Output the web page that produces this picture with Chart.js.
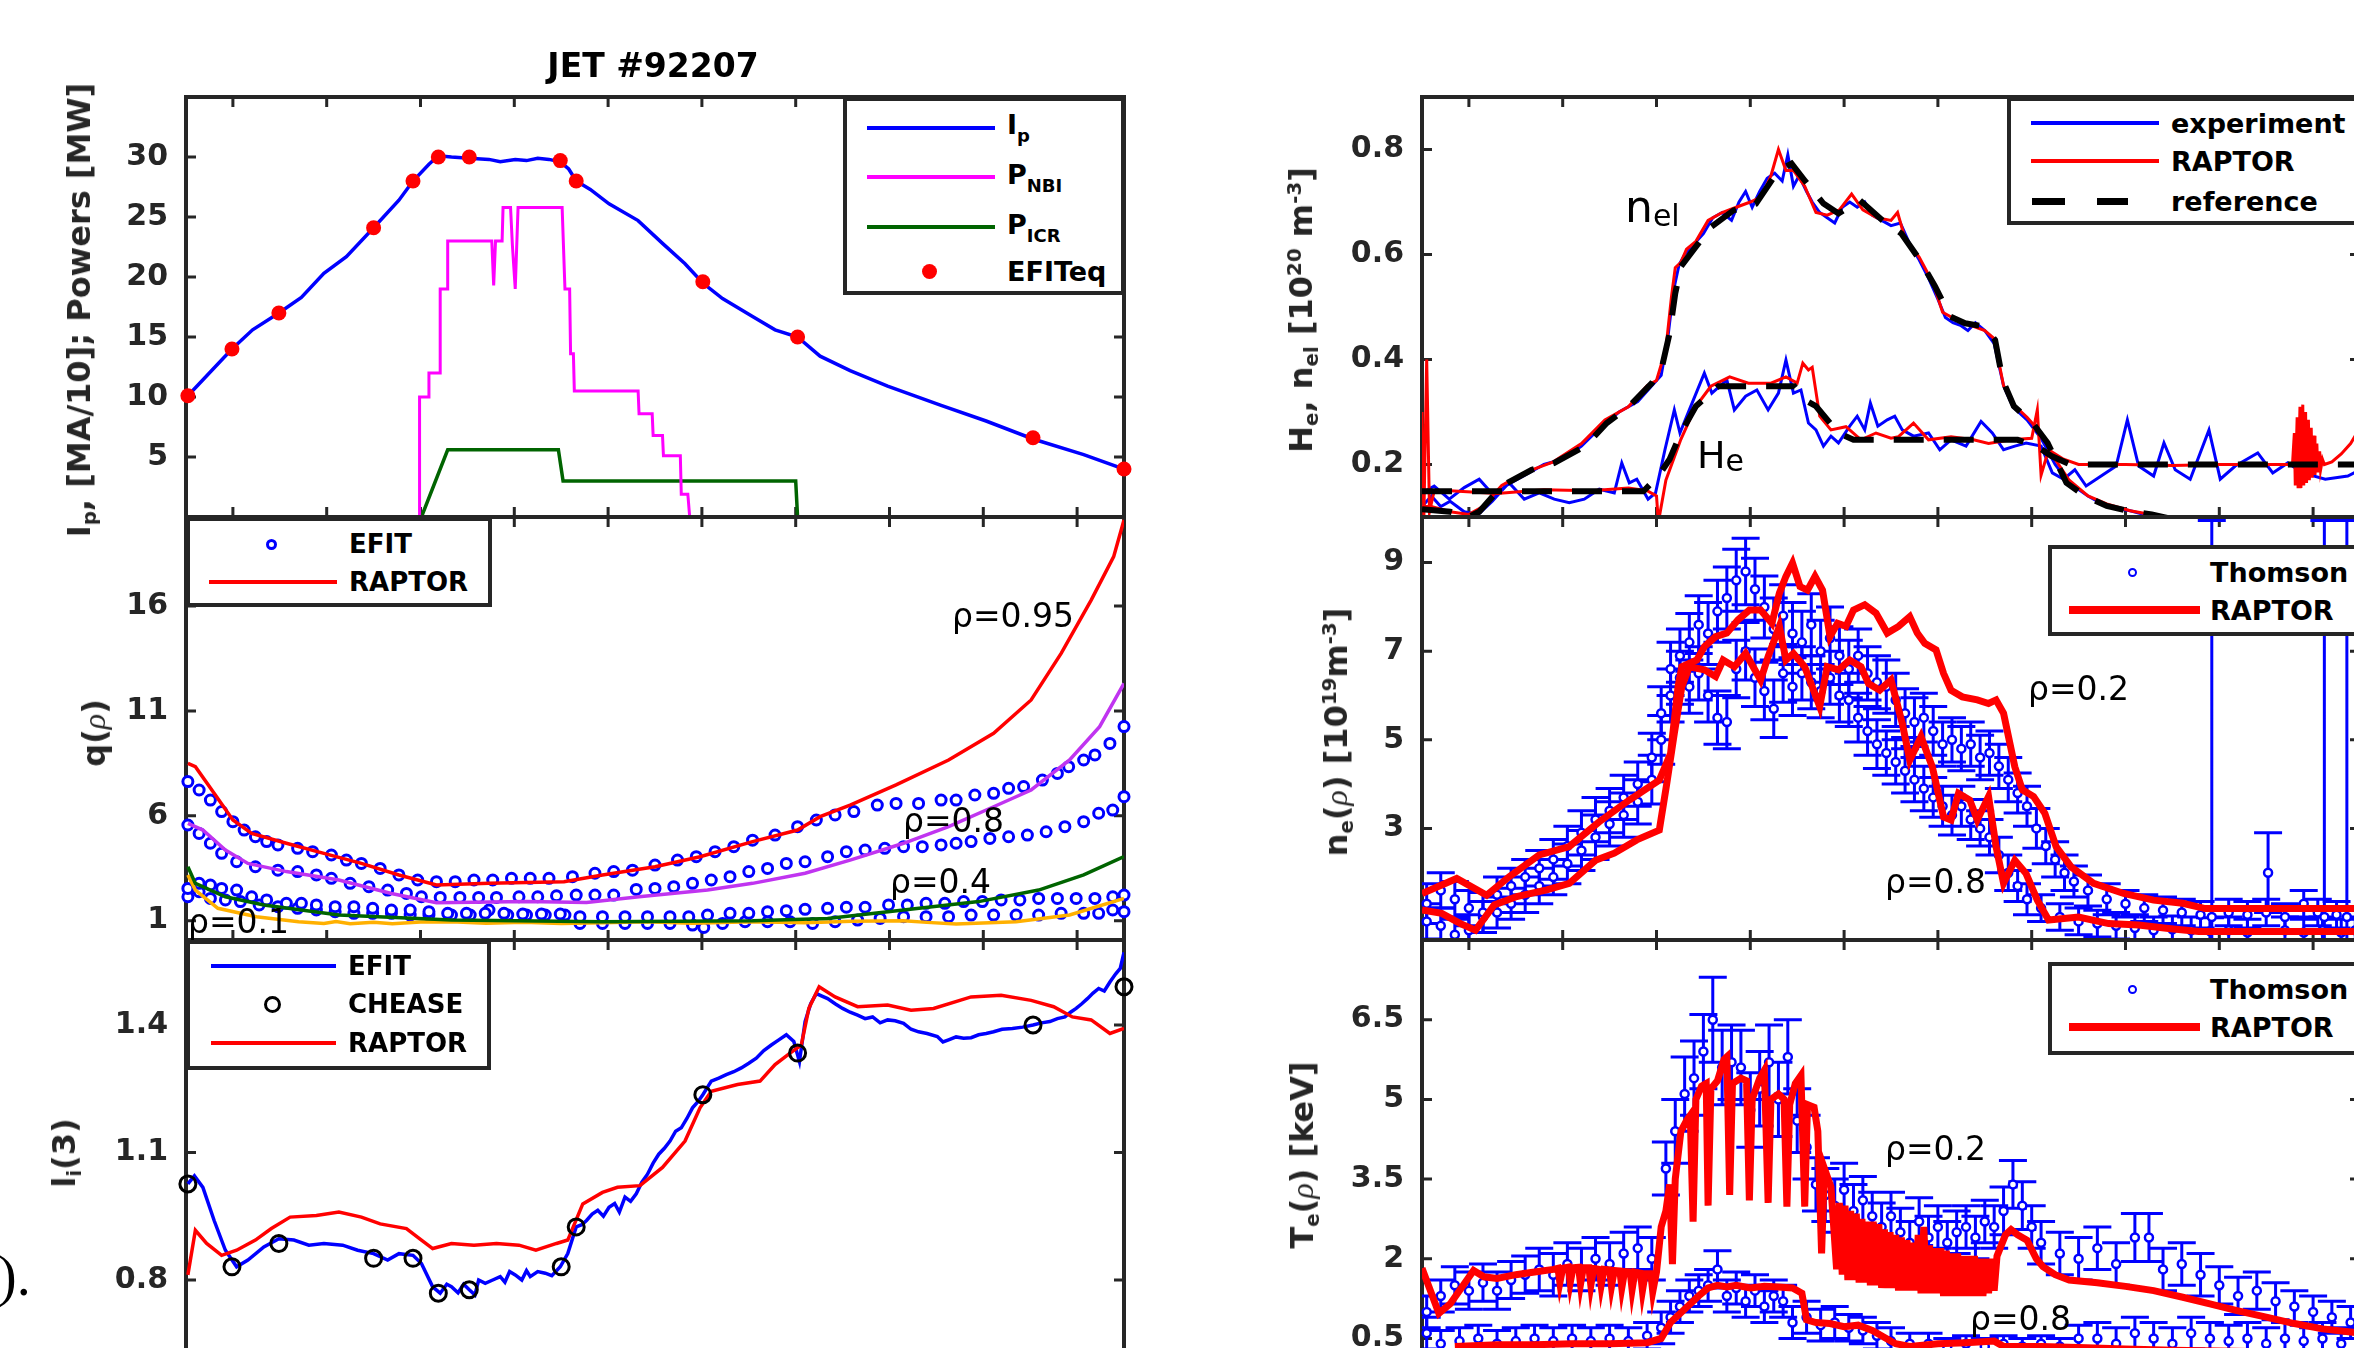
<!DOCTYPE html>
<html><head><meta charset="utf-8"><title>JET #92207</title>
<script src="https://cdn.jsdelivr.net/npm/chart.js@4.4.1/dist/chart.umd.min.js"></script>
<style>
html,body{margin:0;padding:0;background:#fff;}
body{width:2354px;height:1348px;overflow:hidden;position:relative;}
canvas{position:absolute;}
.t{position:absolute;white-space:nowrap;line-height:1;font-family:'DejaVu Sans',sans-serif;color:#000;}
.b{font-weight:bold;}
.ax{position:absolute;white-space:nowrap;line-height:1;font-family:'DejaVu Sans',sans-serif;font-weight:bold;color:#262626;font-size:32px;height:32px;transform:translate(-50%,-50%) rotate(-90deg);}
.ax sub{font-size:0.62em;vertical-align:-0.28em;line-height:0;}
.ax sup{font-size:0.62em;vertical-align:0.55em;line-height:0;}
.rho{font-family:'Liberation Serif',serif;font-style:italic;font-weight:normal;}
.lg{position:absolute;background:#fff;border:4px solid #262626;box-sizing:border-box;}
.s{position:absolute;}
</style></head><body>
<script>
// ---------------- DATA ----------------
const xTicks = [0.5,1.5,2.5,3.5,4.5,5.5,6.5,7.5,8.5,9.5];
const ipTicks = [5,10,15,20,25,30];
const qTicks = [1,6,11,16];
const liTicks = [0.8,1.1,1.4];
const heTicks = [0.2,0.4,0.6,0.8];
const neTicks = [3,5,7,9];
const teTicks = [0.5,2,3.5,5,6.5];

const ipCurve = [[0.02,10.1],[0.49,14.0],[0.71,15.6],[0.99,17.0],[1.23,18.3],[1.47,20.3],[1.71,21.7],[2.0,24.1],[2.27,26.4],[2.42,28.0],[2.59,29.4],[2.69,30.1],[2.83,30.0],[3.02,29.9],[3.23,29.8],[3.35,29.6],[3.51,29.8],[3.63,29.7],[3.75,29.9],[3.87,29.8],[3.99,29.6],[4.08,29.0],[4.16,28.0],[4.31,27.3],[4.51,26.1],[4.82,24.7],[5.08,22.8],[5.32,21.1],[5.51,19.5],[5.72,18.2],[6.04,16.7],[6.28,15.6],[6.52,15.0],[6.76,13.4],[7.08,12.2],[7.48,10.9],[8.05,9.3],[8.53,8.0],[9.03,6.5],[9.57,5.2],[10.0,4.0]];
const efitEq = [[0.02,10.1],[0.49,14.0],[0.99,17.0],[2.0,24.1],[2.42,28.0],[2.69,30.0],[3.02,30.0],[3.99,29.7],[4.16,28.0],[5.51,19.6],[6.52,15.0],[9.03,6.6],[10.0,4.0]];
const pNbi = [[2.49,0],[2.49,10],[2.59,10],[2.59,12],[2.71,12],[2.71,19],[2.79,19],[2.79,23],[3.26,23],[3.28,19.3],[3.3,23],[3.37,23],[3.38,25.8],[3.46,25.8],[3.48,22.6],[3.51,19],[3.54,25.8],[4.01,25.8],[4.04,19],[4.09,19],[4.1,13.6],[4.13,13.6],[4.14,10.5],[4.82,10.5],[4.83,8.6],[4.97,8.6],[4.98,6.8],[5.08,6.8],[5.09,5.1],[5.27,5.1],[5.28,1.9],[5.35,1.9],[5.37,0],[6.52,0]];
const pIcr = [[2.51,0],[2.79,5.6],[3.97,5.6],[4.02,3.0],[6.5,3.0],[6.52,0]];

const q95Raptor = [[0.02,8.5],[0.1,8.34],[0.3,7.07],[0.5,5.8],[0.7,5.16],[1.07,4.69],[1.47,4.21],[1.87,3.73],[2.27,3.18],[2.67,2.7],[3.23,2.78],[4.03,2.86],[4.44,3.18],[5.0,3.57],[5.48,4.05],[6.04,4.77],[6.52,5.32],[6.76,5.96],[7.08,6.51],[7.57,7.47],[8.13,8.66],[8.61,9.93],[9.01,11.52],[9.33,13.74],[9.65,16.28],[9.89,18.35],[10.0,20.1]];
const q08Raptor = [[0.02,5.64],[0.18,5.32],[0.42,4.37],[0.66,3.73],[1.07,3.34],[1.63,2.94],[2.19,2.3],[2.67,1.86],[3.63,1.91],[4.27,1.87],[4.83,2.14],[5.56,2.46],[6.04,2.78],[6.6,3.26],[7.08,3.89],[7.65,4.69],[8.13,5.48],[8.61,6.43],[9.01,7.23],[9.42,8.66],[9.74,10.25],[10.0,12.31]];
const q04Raptor = [[0.02,3.57],[0.1,2.78],[0.42,2.14],[0.83,1.75],[1.63,1.27],[2.83,1.03],[4.44,0.95],[6.04,1.0],[6.84,1.11],[7.65,1.51],[8.45,1.91],[9.09,2.46],[9.57,3.18],[10.0,4.05]];
const q01Raptor = [[0.02,3.18],[0.1,2.46],[0.34,1.59],[0.75,1.19],[1.2,0.95],[1.47,0.87],[1.6,0.96],[1.75,0.86],[2.0,0.93],[2.2,0.86],[2.5,0.94],[2.83,0.95],[3.2,0.88],[3.6,0.93],[4.0,0.87],[4.44,0.9],[4.9,0.95],[5.4,0.88],[6.04,0.95],[6.6,0.9],[7.1,0.97],[7.65,1.0],[7.9,0.92],[8.21,0.84],[8.85,0.95],[9.42,1.27],[10.0,2.06]];
const q95Efit = [[0.02,7.63],[0.14,7.23],[0.26,6.75],[0.38,6.2],[0.5,5.72],[0.62,5.32],[0.74,5.0],[0.86,4.77],[0.98,4.61],[1.19,4.45],[1.35,4.29],[1.55,4.13],[1.71,3.89],[1.87,3.73],[2.07,3.49],[2.27,3.18],[2.47,2.94],[2.67,2.86],[2.87,2.86],[3.07,2.94],[3.27,2.94],[3.47,3.02],[3.67,3.02],[3.87,3.02],[4.12,3.1],[4.36,3.26],[4.56,3.34],[4.76,3.41],[5.0,3.65],[5.24,3.89],[5.44,4.05],[5.64,4.29],[5.84,4.53],[6.04,4.84],[6.28,5.08],[6.52,5.48],[6.72,5.8],[6.92,6.04],[7.12,6.2],[7.37,6.51],[7.57,6.59],[7.81,6.59],[8.05,6.75],[8.21,6.75],[8.41,6.99],[8.61,7.07],[8.77,7.31],[8.93,7.39],[9.13,7.7],[9.29,8.02],[9.41,8.34],[9.57,8.66],[9.69,8.9],[9.85,9.45],[10.0,10.25]];
const q08Efit = [[0.02,5.56],[0.14,5.16],[0.26,4.69],[0.38,4.21],[0.54,3.81],[0.74,3.57],[0.98,3.41],[1.19,3.34],[1.39,3.18],[1.55,3.02],[1.75,2.78],[1.95,2.62],[2.15,2.46],[2.35,2.3],[2.51,2.14],[2.71,2.11],[2.92,2.11],[3.12,2.11],[3.31,2.11],[3.55,2.14],[3.75,2.14],[3.95,2.19],[4.16,2.22],[4.36,2.22],[4.56,2.22],[4.8,2.49],[5.0,2.54],[5.2,2.62],[5.4,2.78],[5.6,2.94],[5.8,3.1],[6.0,3.34],[6.2,3.49],[6.4,3.73],[6.6,3.81],[6.84,4.05],[7.04,4.29],[7.24,4.37],[7.45,4.45],[7.65,4.53],[7.85,4.53],[8.05,4.61],[8.21,4.69],[8.37,4.77],[8.57,4.92],[8.77,5.0],[8.97,5.08],[9.17,5.24],[9.37,5.48],[9.57,5.72],[9.73,6.12],[9.88,6.27],[10.0,6.91]];
const q04Efit = [[0.02,2.54],[0.14,2.78],[0.26,2.7],[0.38,2.54],[0.54,2.46],[0.7,2.14],[0.86,1.99],[1.07,1.83],[1.23,1.83],[1.39,1.75],[1.59,1.67],[1.79,1.67],[1.99,1.59],[2.19,1.51],[2.39,1.51],[2.59,1.43],[2.79,1.35],[2.99,1.35],[3.19,1.35],[3.39,1.35],[3.59,1.32],[3.79,1.32],[3.99,1.32],[4.2,1.19],[4.44,1.19],[4.68,1.19],[4.92,1.19],[5.16,1.19],[5.36,1.19],[5.56,1.27],[5.8,1.35],[6.0,1.35],[6.2,1.43],[6.4,1.48],[6.6,1.54],[6.84,1.59],[7.04,1.64],[7.24,1.64],[7.49,1.75],[7.69,1.75],[7.89,1.83],[8.09,1.83],[8.29,1.91],[8.49,1.91],[8.69,1.99],[8.89,1.99],[9.09,2.06],[9.29,2.06],[9.49,2.06],[9.69,2.06],[9.88,2.14],[10.0,2.22]];
const q01Efit = [[0.02,2.14],[0.14,2.38],[0.26,2.06],[0.42,1.99],[0.58,1.91],[0.78,1.75],[0.98,1.67],[1.19,1.59],[1.39,1.51],[1.59,1.43],[1.79,1.35],[1.99,1.35],[2.19,1.35],[2.39,1.27],[2.59,1.27],[2.83,1.27],[3.03,1.27],[3.23,1.51],[3.43,1.27],[3.63,1.27],[3.83,1.27],[4.04,1.27],[4.2,0.87],[4.44,0.87],[4.68,0.87],[4.92,0.87],[5.16,0.87],[5.4,0.79],[5.52,0.68],[5.72,0.87],[5.96,0.95],[6.2,0.95],[6.44,0.95],[6.68,0.87],[6.92,0.95],[7.16,1.03],[7.4,1.11],[7.65,1.19],[7.89,1.19],[8.13,1.19],[8.37,1.27],[8.61,1.27],[8.85,1.27],[9.09,1.27],[9.33,1.35],[9.57,1.35],[9.73,1.35],[9.88,1.51],[10.0,1.43]];

const liEfit = [[0.02,1.026],[0.09,1.045],[0.18,1.018],[0.3,0.94],[0.42,0.87],[0.54,0.831],[0.66,0.847],[0.83,0.878],[0.99,0.897],[1.15,0.894],[1.31,0.882],[1.47,0.886],[1.67,0.882],[1.83,0.87],[2.0,0.862],[2.15,0.847],[2.27,0.862],[2.42,0.858],[2.51,0.839],[2.63,0.784],[2.71,0.769],[2.78,0.79],[2.83,0.784],[2.9,0.77],[2.96,0.79],[3.02,0.777],[3.08,0.765],[3.12,0.8],[3.19,0.792],[3.27,0.8],[3.35,0.808],[3.4,0.795],[3.45,0.82],[3.51,0.812],[3.58,0.8],[3.63,0.822],[3.67,0.808],[3.75,0.82],[3.83,0.816],[3.9,0.81],[3.99,0.831],[4.07,0.862],[4.16,0.925],[4.22,0.93],[4.27,0.94],[4.33,0.955],[4.39,0.964],[4.45,0.95],[4.51,0.971],[4.57,0.98],[4.62,0.96],[4.68,0.995],[4.74,0.985],[4.8,1.003],[4.86,1.03],[4.92,1.049],[4.98,1.075],[5.04,1.096],[5.1,1.11],[5.16,1.127],[5.22,1.15],[5.28,1.158],[5.34,1.18],[5.4,1.205],[5.46,1.22],[5.51,1.236],[5.6,1.268],[5.68,1.275],[5.76,1.283],[5.84,1.29],[5.92,1.299],[6.0,1.31],[6.08,1.322],[6.16,1.34],[6.24,1.353],[6.32,1.365],[6.4,1.377],[6.48,1.361],[6.54,1.314],[6.6,1.408],[6.66,1.45],[6.72,1.474],[6.78,1.468],[6.84,1.462],[6.92,1.45],[7.0,1.439],[7.08,1.43],[7.16,1.423],[7.24,1.415],[7.32,1.419],[7.4,1.405],[7.48,1.412],[7.56,1.41],[7.65,1.404],[7.73,1.39],[7.81,1.384],[7.9,1.38],[8.01,1.373],[8.07,1.36],[8.13,1.365],[8.21,1.372],[8.29,1.369],[8.37,1.37],[8.45,1.377],[8.53,1.38],[8.61,1.384],[8.7,1.39],[8.81,1.392],[8.92,1.395],[9.03,1.4],[9.12,1.405],[9.21,1.408],[9.29,1.415],[9.37,1.419],[9.43,1.43],[9.49,1.439],[9.55,1.45],[9.61,1.462],[9.67,1.475],[9.73,1.486],[9.79,1.48],[9.85,1.501],[9.91,1.52],[9.96,1.533],[10.0,1.571]];
const liRaptor = [[0.02,0.812],[0.1,0.917],[0.22,0.886],[0.38,0.858],[0.54,0.87],[0.74,0.894],[0.91,0.921],[1.11,0.948],[1.39,0.952],[1.63,0.96],[1.87,0.948],[2.07,0.932],[2.35,0.921],[2.51,0.894],[2.63,0.874],[2.83,0.886],[3.07,0.882],[3.31,0.886],[3.55,0.882],[3.73,0.87],[3.95,0.886],[4.07,0.894],[4.23,0.979],[4.44,1.006],[4.6,1.018],[4.84,1.022],[5.08,1.065],[5.32,1.127],[5.48,1.205],[5.6,1.244],[5.88,1.26],[6.12,1.268],[6.28,1.307],[6.44,1.334],[6.56,1.353],[6.64,1.439],[6.75,1.49],[6.92,1.466],[7.16,1.443],[7.48,1.447],[7.73,1.435],[7.97,1.439],[8.37,1.466],[8.69,1.47],[9.01,1.458],[9.25,1.443],[9.45,1.419],[9.65,1.412],[9.85,1.38],[10.0,1.392]];
const liChease = [[0.02,1.026],[0.49,0.831],[0.99,0.886],[2.0,0.851],[2.42,0.851],[2.69,0.769],[3.02,0.777],[4.0,0.831],[4.16,0.925],[5.51,1.236],[6.52,1.334],[9.03,1.4],[10.0,1.49]];

const nelRef = [[0,0.115],[0.3,0.11],[0.5,0.1],[0.61,0.11],[0.85,0.159],[1.17,0.19],[1.41,0.203],[1.74,0.235],[1.97,0.279],[2.21,0.311],[2.45,0.355],[2.56,0.387],[2.64,0.45],[2.7,0.526],[2.76,0.577],[2.92,0.615],[3.08,0.652],[3.32,0.684],[3.56,0.697],[3.8,0.76],[3.94,0.773],[4.08,0.741],[4.28,0.697],[4.44,0.678],[4.67,0.703],[4.91,0.665],[5.11,0.64],[5.31,0.589],[5.47,0.539],[5.63,0.482],[5.79,0.469],[5.99,0.463],[6.11,0.437],[6.19,0.361],[6.31,0.311],[6.51,0.279],[6.67,0.241],[6.87,0.165],[7.07,0.14],[7.3,0.121],[7.54,0.111],[7.78,0.105],[8.18,0.089],[8.58,0.07]];
const heRef = [[0,0.149],[2.36,0.149],[2.52,0.178],[2.64,0.21],[2.76,0.26],[2.92,0.311],[3.16,0.349],[3.97,0.349],[4.08,0.323],[4.2,0.311],[4.44,0.26],[4.6,0.247],[6.35,0.247],[6.55,0.235],[6.71,0.216],[6.91,0.2],[10,0.2]];
const nelRaptor = [[0,0.12],[0.1,0.12],[0.3,0.11],[0.5,0.105],[0.65,0.12],[0.85,0.16],[1.1,0.185],[1.4,0.205],[1.7,0.24],[1.95,0.285],[2.2,0.31],[2.4,0.35],[2.5,0.36],[2.6,0.42],[2.66,0.52],[2.7,0.575],[2.76,0.585],[2.82,0.61],[2.92,0.625],[3.05,0.665],[3.2,0.68],[3.35,0.69],[3.5,0.7],[3.62,0.71],[3.72,0.75],[3.8,0.8],[3.88,0.76],[3.96,0.76],[4.08,0.73],[4.2,0.68],[4.32,0.675],[4.45,0.685],[4.58,0.715],[4.7,0.685],[4.85,0.67],[5.0,0.665],[5.07,0.68],[5.15,0.63],[5.3,0.595],[5.45,0.545],[5.55,0.49],[5.7,0.475],[5.85,0.465],[6.0,0.455],[6.1,0.44],[6.2,0.35],[6.3,0.315],[6.45,0.29],[6.6,0.26],[6.75,0.21],[6.9,0.17],[7.1,0.14],[7.3,0.125],[7.55,0.112],[7.8,0.104],[8.2,0.09],[8.6,0.07]];
const nelExp = [[0,0.12],[0.1,0.14],[0.2,0.12],[0.3,0.13],[0.45,0.11],[0.6,0.105],[0.75,0.13],[0.9,0.16],[1.1,0.18],[1.3,0.2],[1.5,0.21],[1.7,0.235],[1.9,0.27],[2.1,0.3],[2.3,0.32],[2.45,0.35],[2.55,0.37],[2.62,0.44],[2.68,0.53],[2.74,0.58],[2.8,0.6],[2.9,0.62],[3.0,0.64],[3.1,0.67],[3.2,0.68],[3.3,0.665],[3.38,0.7],[3.45,0.72],[3.52,0.69],[3.6,0.72],[3.68,0.745],[3.76,0.755],[3.84,0.74],[3.9,0.79],[3.96,0.73],[4.02,0.75],[4.1,0.72],[4.16,0.7],[4.24,0.68],[4.32,0.67],[4.4,0.66],[4.48,0.69],[4.56,0.7],[4.64,0.69],[4.72,0.7],[4.8,0.675],[4.9,0.665],[5.0,0.655],[5.1,0.66],[5.2,0.62],[5.3,0.59],[5.4,0.555],[5.5,0.515],[5.58,0.48],[5.66,0.47],[5.74,0.465],[5.82,0.455],[5.9,0.47],[6.0,0.455],[6.1,0.43],[6.2,0.35],[6.3,0.31],[6.45,0.285],[6.6,0.25],[6.75,0.2],[6.9,0.165],[7.1,0.14],[7.3,0.12],[7.55,0.112],[7.8,0.1],[8.2,0.088],[8.6,0.07]];
const heExp = [[0,0.146],[0.13,0.159],[0.29,0.134],[0.45,0.156],[0.61,0.172],[0.77,0.14],[0.93,0.165],[1.09,0.134],[1.25,0.146],[1.41,0.134],[1.57,0.127],[1.73,0.134],[1.89,0.153],[2.05,0.146],[2.13,0.203],[2.21,0.165],[2.29,0.172],[2.41,0.134],[2.49,0.146],[2.59,0.228],[2.69,0.304],[2.75,0.26],[2.85,0.304],[3.01,0.374],[3.09,0.336],[3.25,0.361],[3.33,0.304],[3.45,0.33],[3.57,0.342],[3.69,0.304],[3.8,0.336],[3.88,0.399],[3.96,0.336],[4.04,0.342],[4.12,0.279],[4.2,0.266],[4.28,0.235],[4.36,0.254],[4.44,0.241],[4.56,0.273],[4.64,0.292],[4.72,0.266],[4.78,0.317],[4.86,0.273],[4.96,0.285],[5.04,0.292],[5.12,0.266],[5.24,0.254],[5.4,0.26],[5.52,0.228],[5.64,0.247],[5.8,0.235],[5.96,0.282],[6.08,0.26],[6.2,0.228],[6.32,0.235],[6.44,0.241],[6.6,0.235],[6.72,0.184],[6.84,0.172],[6.96,0.19],[7.08,0.159],[7.24,0.178],[7.4,0.197],[7.52,0.285],[7.64,0.197],[7.8,0.178],[7.91,0.241],[8.03,0.19],[8.19,0.172],[8.39,0.266],[8.51,0.172],[8.67,0.197],[8.91,0.222],[9.07,0.184],[9.23,0.203],[9.39,0.184],[9.63,0.172],[9.87,0.178],[10,0.19]];
const heRaptor = [[0,0.3],[0.02,0.1],[0.05,0.4],[0.08,0.11],[0.13,0.15],[0.3,0.15],[0.8,0.145],[1.3,0.152],[1.8,0.15],[2.2,0.155],[2.4,0.15],[2.5,0.14],[2.52,0.09],[2.6,0.17],[2.76,0.248],[2.92,0.311],[3.08,0.349],[3.28,0.367],[3.48,0.355],[3.72,0.355],[3.88,0.367],[4.0,0.355],[4.06,0.393],[4.12,0.38],[4.16,0.385],[4.24,0.292],[4.36,0.266],[4.52,0.272],[4.68,0.247],[4.84,0.26],[5.0,0.25],[5.08,0.253],[5.24,0.279],[5.4,0.247],[5.64,0.253],[5.88,0.247],[6.04,0.24],[6.28,0.247],[6.5,0.25],[6.56,0.304],[6.6,0.18],[6.68,0.228],[6.84,0.21],[7.0,0.2],[7.5,0.2],[8.0,0.198],[8.5,0.2],[9.2,0.2],[9.28,0.2],[9.3,0.26],[9.31,0.16],[9.33,0.29],[9.34,0.155],[9.36,0.31],[9.37,0.155],[9.39,0.314],[9.4,0.16],[9.42,0.3],[9.43,0.165],[9.45,0.285],[9.46,0.17],[9.48,0.27],[9.49,0.175],[9.51,0.255],[9.52,0.18],[9.54,0.24],[9.55,0.185],[9.57,0.225],[9.58,0.19],[9.6,0.21],[9.62,0.2],[9.7,0.205],[9.8,0.22],[9.9,0.24],[10,0.27]];

const neRaptor02 = [[0,1.53],[0.37,1.87],[0.69,1.49],[0.93,1.91],[1.25,2.4],[1.57,2.59],[1.89,3.15],[2.21,3.64],[2.53,4.09],[2.65,4.69],[2.73,6.2],[2.77,6.65],[2.93,6.8],[3.01,7.1],[3.13,7.33],[3.25,7.41],[3.37,7.71],[3.49,7.93],[3.61,7.93],[3.73,7.63],[3.81,8.31],[3.88,8.69],[3.95,8.99],[4.03,8.46],[4.11,8.38],[4.19,8.69],[4.27,8.38],[4.35,7.33],[4.43,7.63],[4.52,7.56],[4.6,7.93],[4.72,8.05],[4.84,7.86],[4.96,7.41],[5.08,7.56],[5.2,7.78],[5.28,7.41],[5.36,7.18],[5.48,7.03],[5.56,6.5],[5.64,6.12],[5.76,5.97],[5.92,5.9],[6.04,5.82],[6.12,5.9],[6.2,5.6],[6.32,4.39],[6.4,3.87],[6.52,3.72],[6.64,3.34],[6.76,2.59],[6.92,2.13],[7.16,1.76],[7.48,1.53],[7.8,1.38],[8.11,1.31],[8.35,1.19],[10,1.19]];
const neRaptor08 = [[0,1.16],[0.21,1.08],[0.41,0.85],[0.57,0.7],[0.77,1.27],[1.01,1.46],[1.33,1.61],[1.57,1.76],[1.85,2.28],[2.05,2.44],[2.29,2.74],[2.53,2.96],[2.61,4.02],[2.69,5.15],[2.77,6.2],[2.85,6.65],[3.01,6.58],[3.13,6.43],[3.21,6.8],[3.33,6.65],[3.45,6.95],[3.53,6.65],[3.61,6.35],[3.69,6.88],[3.81,7.56],[3.88,6.8],[3.96,6.95],[4.08,6.65],[4.16,6.2],[4.24,5.75],[4.32,6.65],[4.44,6.58],[4.56,6.8],[4.68,6.65],[4.76,6.27],[4.88,6.12],[5.0,6.35],[5.12,5.37],[5.2,4.54],[5.32,5.07],[5.44,4.39],[5.56,3.26],[5.64,3.19],[5.72,3.79],[5.84,3.64],[5.92,3.19],[6.04,3.72],[6.12,2.59],[6.2,1.76],[6.32,2.28],[6.44,1.98],[6.56,1.38],[6.68,0.93],[7.0,1.0],[7.32,0.85],[7.64,0.82],[7.96,0.74],[8.28,0.67],[10,0.67]];
const neThomson02 = [[0.05,1.3,.45],[0.2,1.6,.4],[0.35,1.4,.4],[0.5,1.2,.4],[0.65,1.1,.45],[0.8,1.5,.4],[0.95,1.7,.4],[1.1,1.9,.4],[1.25,2.1,.4],[1.4,2.3,.45],[1.55,2.6,.45],[1.7,2.9,.5],[1.85,3.2,.5],[2.0,3.4,.5],[2.15,3.7,.5],[2.3,4.0,.5],[2.45,4.6,.55],[2.55,5.6,.6],[2.65,6.6,.6],[2.75,6.9,.6],[2.85,7.2,.65],[2.95,7.6,.65],[3.05,7.4,.7],[3.15,7.9,.7],[3.25,8.2,.7],[3.35,8.6,.7],[3.45,8.8,.75],[3.55,8.4,.7],[3.65,8.0,.7],[3.75,7.5,.7],[3.85,7.8,.7],[3.95,7.4,.7],[4.05,7.2,.7],[4.15,7.6,.7],[4.25,7.0,.7],[4.35,7.3,.7],[4.45,6.9,.65],[4.55,6.6,.65],[4.65,6.9,.6],[4.75,6.5,.6],[4.85,6.3,.6],[4.95,6.2,.6],[5.05,5.9,.6],[5.15,5.6,.55],[5.25,5.4,.55],[5.35,5.5,.55],[5.45,5.2,.55],[5.55,4.9,.5],[5.65,5.0,.5],[5.75,4.8,.5],[5.85,4.9,.5],[5.95,4.6,.5],[6.05,4.7,.5],[6.15,4.4,.5],[6.25,4.1,.5],[6.35,3.8,.45],[6.45,3.5,.45],[6.55,3.0,.45],[6.65,2.6,.4],[6.75,2.3,.4],[6.85,2.0,.4],[6.95,1.8,.35],[7.1,1.6,.35],[7.3,1.4,.35],[7.5,1.3,.3],[7.7,1.2,.3],[7.9,1.15,.3],[8.1,1.1,.3],[8.3,1.05,.3],[8.42,1.0,8.95],[8.6,1.1,.3],[8.8,1.05,.3],[9.0,1.1,.3],[9.2,1.0,.3],[9.4,1.3,.3],[9.55,1.1,.3],[9.62,1.0,8.95],[9.75,1.05,.3],[9.86,1.0,8.95]];
const neThomson08 = [[0.05,0.9,.4],[0.2,0.8,.4],[0.35,0.6,.35],[0.5,0.7,.35],[0.65,1.0,.35],[0.8,1.1,.35],[0.95,1.3,.35],[1.1,1.5,.4],[1.25,1.7,.4],[1.4,1.9,.4],[1.55,2.2,.45],[1.7,2.5,.45],[1.85,2.8,.5],[2.0,3.1,.5],[2.15,3.3,.5],[2.3,3.6,.5],[2.45,4.1,.55],[2.55,5.0,.55],[2.65,6.0,.6],[2.75,6.4,.6],[2.85,6.2,.6],[2.95,6.5,.6],[3.05,6.0,.6],[3.15,5.5,.6],[3.25,5.4,.6],[3.35,6.6,.65],[3.45,7.0,.65],[3.55,6.4,.65],[3.65,6.1,.65],[3.75,5.7,.65],[3.85,6.5,.65],[3.95,6.2,.65],[4.05,6.5,.6],[4.15,6.3,.6],[4.25,6.1,.6],[4.35,6.4,.6],[4.45,6.0,.6],[4.55,5.9,.6],[4.65,5.5,.55],[4.75,5.2,.55],[4.85,4.9,.55],[4.95,4.7,.5],[5.05,4.5,.5],[5.15,4.3,.5],[5.25,4.1,.5],[5.35,3.9,.5],[5.45,3.7,.45],[5.55,3.5,.45],[5.65,3.3,.45],[5.75,3.5,.45],[5.85,3.2,.45],[5.95,3.0,.4],[6.05,2.8,.4],[6.15,2.4,.4],[6.25,2.0,.4],[6.35,1.7,.35],[6.45,1.4,.35],[6.6,1.2,.3],[6.8,1.0,.3],[7.0,0.9,.3],[7.2,0.85,.3],[7.4,0.8,.3],[7.6,0.75,.3],[7.8,0.7,.3],[8.0,0.72,.3],[8.2,0.7,.3],[8.4,0.68,.3],[8.6,0.7,.3],[8.8,0.65,.3],[9.02,2.0,.9],[9.2,0.7,.3],[9.4,0.65,.3],[9.6,0.7,.3],[9.8,0.65,.3],[9.95,0.7,.3]];

const teRaptor02 = [[0,1.82],[0.1,1.35],[0.18,0.97],[0.3,1.15],[0.38,1.35],[0.55,1.78],[0.66,1.66],[0.8,1.63],[1.0,1.7],[1.2,1.75],[1.4,1.8],[1.45,1.82],[1.47,1.55],[1.5,1.82],[1.56,1.84],[1.58,1.55],[1.61,1.83],[1.67,1.84],[1.69,1.52],[1.72,1.83],[1.78,1.83],[1.8,1.5],[1.83,1.82],[1.89,1.8],[1.91,1.5],[1.94,1.8],[2.0,1.79],[2.02,1.48],[2.05,1.78],[2.11,1.77],[2.13,1.45],[2.16,1.76],[2.22,1.75],[2.24,1.42],[2.27,1.75],[2.33,1.73],[2.35,1.4],[2.38,1.72],[2.44,1.72],[2.46,1.38],[2.5,1.75],[2.55,2.6],[2.6,2.9],[2.64,3.4],[2.67,1.9],[2.7,3.5],[2.76,4.4],[2.82,4.6],[2.86,4.7],[2.89,2.7],[2.92,5.0],[2.98,5.25],[3.03,5.3],[3.05,3.0],[3.08,5.2],[3.15,5.35],[3.22,5.75],[3.25,5.8],[3.28,3.2],[3.31,5.3],[3.4,5.4],[3.46,5.35],[3.49,3.1],[3.52,5.0],[3.6,5.4],[3.65,5.55],[3.69,3.05],[3.72,5.0],[3.8,5.1],[3.86,5.0],[3.89,2.98],[3.92,4.9],[3.98,5.3],[4.04,5.45],[4.08,2.98],[4.11,4.9],[4.18,4.85],[4.22,4.4],[4.26,2.1],[4.29,3.7],[4.36,3.35],[4.42,1.8],[4.45,3.05],[4.48,1.7],[4.51,3.0],[4.54,1.6],[4.57,2.9],[4.6,1.6],[4.63,2.85],[4.66,1.55],[4.69,2.75],[4.72,1.55],[4.75,2.7],[4.78,1.5],[4.81,2.7],[4.84,1.5],[4.87,2.65],[4.9,1.45],[4.93,2.55],[4.96,1.45],[4.99,2.5],[5.02,1.45],[5.05,2.45],[5.08,1.4],[5.11,2.4],[5.14,1.4],[5.17,2.35],[5.2,1.4],[5.23,2.3],[5.26,1.4],[5.29,2.45],[5.32,1.35],[5.35,2.6],[5.38,1.35],[5.41,2.25],[5.44,1.35],[5.47,2.2],[5.5,1.35],[5.53,2.2],[5.56,1.3],[5.59,2.15],[5.62,1.3],[5.65,2.1],[5.68,1.3],[5.71,2.1],[5.74,1.3],[5.77,2.05],[5.8,1.3],[5.83,2.05],[5.86,1.3],[5.89,2.05],[5.92,1.3],[5.95,2.0],[5.98,1.3],[6.01,2.0],[6.04,1.35],[6.07,2.0],[6.1,1.4],[6.13,2.05],[6.22,2.45],[6.28,2.55],[6.35,2.45],[6.45,2.35],[6.55,2.0],[6.62,1.85],[6.75,1.7],[6.9,1.6],[7.2,1.55],[7.5,1.48],[7.8,1.4],[8.1,1.28],[8.4,1.15],[8.7,1.02],[9.0,0.9],[9.3,0.78],[9.6,0.68],[9.9,0.62],[10,0.6]];
const teRaptor08 = [[0.35,0.35],[0.8,0.38],[1.2,0.38],[1.6,0.4],[2.0,0.4],[2.4,0.42],[2.55,0.5],[2.65,0.8],[2.8,1.05],[2.95,1.3],[3.05,1.45],[3.15,1.5],[3.25,1.47],[3.35,1.5],[3.5,1.45],[3.65,1.48],[3.8,1.47],[3.95,1.45],[4.05,1.35],[4.1,0.85],[4.2,0.8],[4.35,0.78],[4.5,0.72],[4.65,0.75],[4.8,0.65],[4.95,0.5],[5.05,0.4],[5.2,0.35],[5.5,0.4],[5.8,0.42],[6.1,0.45],[6.2,0.35],[6.6,0.35],[7.0,0.33],[7.5,0.3],[8.0,0.28],[9.0,0.25],[10,0.22]];
const teThomson02 = [[0.05,1.0,.3],[0.2,1.3,.3],[0.35,1.5,.35],[0.5,1.4,.35],[0.65,1.55,.35],[0.8,1.4,.35],[0.95,1.6,.35],[1.1,1.7,.35],[1.25,1.8,.4],[1.4,1.7,.4],[1.55,1.9,.4],[1.7,1.8,.4],[1.85,2.0,.4],[2.0,1.9,.4],[2.15,2.1,.4],[2.3,2.2,.4],[2.45,2.0,.4],[2.6,3.7,.5],[2.7,4.4,.6],[2.8,5.1,.7],[2.9,5.4,.7],[3.0,5.9,.7],[3.1,6.5,.8],[3.2,5.6,.7],[3.3,5.7,.7],[3.4,5.6,.7],[3.5,4.8,.7],[3.6,5.2,.7],[3.7,5.7,.7],[3.8,5.0,.7],[3.9,5.8,.7],[4.0,4.6,.6],[4.1,4.1,.6],[4.2,3.4,.5],[4.3,3.2,.5],[4.4,3.0,.5],[4.5,3.3,.5],[4.6,2.9,.5],[4.7,3.1,.45],[4.8,2.8,.45],[4.9,2.6,.45],[5.0,2.8,.45],[5.1,2.5,.45],[5.2,2.3,.4],[5.3,2.7,.45],[5.4,2.4,.4],[5.5,2.6,.4],[5.6,2.3,.4],[5.7,2.5,.4],[5.8,2.6,.4],[5.9,2.4,.4],[6.0,2.7,.4],[6.1,2.6,.4],[6.2,2.9,.45],[6.3,3.4,.45],[6.4,3.0,.45],[6.5,2.6,.4],[6.6,2.3,.4],[6.8,2.1,.4],[7.0,2.0,.4],[7.2,2.2,.4],[7.4,1.9,.4],[7.6,2.4,.45],[7.75,2.4,.45],[7.9,1.8,.4],[8.1,1.9,.4],[8.3,1.7,.4],[8.5,1.5,.35],[8.7,1.3,.35],[8.9,1.4,.35],[9.1,1.2,.35],[9.3,1.1,.3],[9.5,1.0,.3],[9.7,0.9,.3],[9.9,0.8,.3]];
const teThomson08 = [[0.05,0.6,.3],[0.2,0.4,.25],[0.4,0.45,.25],[0.6,0.5,.25],[0.8,0.4,.25],[1.0,0.45,.25],[1.2,0.5,.25],[1.4,0.45,.25],[1.6,0.5,.25],[1.8,0.45,.25],[2.0,0.5,.25],[2.2,0.45,.25],[2.4,0.55,.25],[2.55,0.7,.3],[2.65,0.9,.3],[2.75,1.1,.3],[2.85,1.3,.3],[2.95,1.4,.3],[3.05,1.5,.3],[3.15,1.8,.35],[3.25,1.3,.3],[3.35,1.45,.3],[3.45,1.2,.3],[3.55,1.4,.3],[3.65,1.1,.3],[3.75,1.3,.3],[3.85,1.2,.3],[3.95,0.8,.3],[4.1,0.9,.3],[4.25,0.75,.3],[4.4,0.8,.3],[4.55,0.7,.25],[4.7,0.65,.25],[4.85,0.55,.25],[5.0,0.45,.25],[5.2,0.4,.2],[5.4,0.4,.2],[5.6,0.35,.15],[5.8,0.4,.15],[6.0,0.35,.15],[6.2,0.4,.15],[6.4,0.35,.15],[6.6,0.4,.15],[6.8,0.35,.15],[7.0,0.5,.25],[7.2,0.5,.3],[7.4,0.4,.3],[7.6,0.6,.3],[7.8,0.5,.3],[8.0,0.4,.3],[8.2,0.6,.3],[8.4,0.5,.3],[8.6,0.45,.3],[8.8,0.5,.3],[9.0,0.4,.3],[9.2,0.5,.3],[9.4,0.45,.3],[9.6,0.5,.3],[9.8,0.4,.3]];

// ---------------- STYLE / LAYOUT ----------------
const BLUE='#0000ff', RED='#ff0000', MAG='#ff00ff', GRN='#006400', PUR='#c034f0', ORG='#ffb000', AXC='#262626';
const PAD=44, AW=90;
const P = a => a.map(d => ({x:d[0], y:d[1]}));
const line = (a,c,w,o,extra) => Object.assign({data:P(a), borderColor:c, borderWidth:w, pointRadius:0, pointHoverRadius:0, tension:0, fill:false, order:o}, extra||{});
const marks = (a,c,r,bw,bg,o) => ({data:P(a), showLine:false, pointRadius:r, pointHoverRadius:r, pointStyle:'circle', pointBorderColor:c, pointBackgroundColor:bg, pointBorderWidth:bw, borderColor:c, backgroundColor:bg, order:o, clip:14});
const errMarks = (a,c,r,bw,o) => Object.assign(marks(a,c,r,bw,'#ffffff',o), {errs:a.map(d=>d[2]), errColor:c});

const errPlugin = {id:'errbars', beforeDatasetsDraw(chart){
  const {ctx, chartArea:a, scales:{x,y}} = chart;
  ctx.save(); ctx.beginPath(); ctx.rect(a.left,a.top,a.right-a.left,a.bottom-a.top); ctx.clip();
  chart.data.datasets.forEach(ds => {
    if(!ds.errs) return;
    ctx.strokeStyle = ds.errColor; ctx.lineWidth = 3; ctx.beginPath();
    ds.data.forEach((p,i) => {
      const e = ds.errs[i], px = x.getPixelForValue(p.x), y1 = y.getPixelForValue(p.y+e), y2 = y.getPixelForValue(p.y-e);
      ctx.moveTo(px,y1); ctx.lineTo(px,y2);
      ctx.moveTo(px-14,y1); ctx.lineTo(px+14,y1);
      ctx.moveTo(px-14,y2); ctx.lineTo(px+14,y2);
    });
    ctx.stroke();
  });
  ctx.restore();
}};

function framePlugin(yt){ return {id:'frame', beforeDatasetsDraw(chart){
  const {ctx, chartArea:a, scales:{x,y}} = chart;
  ctx.save(); ctx.strokeStyle=AXC; ctx.lineWidth=3; ctx.beginPath();
  xTicks.forEach(v => {const px=x.getPixelForValue(v); ctx.moveTo(px,a.top); ctx.lineTo(px,a.top+10); ctx.moveTo(px,a.bottom); ctx.lineTo(px,a.bottom-10);});
  yt.forEach(v => {const py=y.getPixelForValue(v); ctx.moveTo(a.left,py); ctx.lineTo(a.left+10,py); ctx.moveTo(a.right,py); ctx.lineTo(a.right-10,py);});
  ctx.stroke();
  ctx.lineWidth=4; ctx.strokeRect(a.left,a.top,a.right-a.left,a.bottom-a.top);
  ctx.restore();
}};}

function panel(L,T,R,B,yMin,yMax,yt,datasets){
  const c=document.createElement('canvas');
  const W=R-L+2*PAD+AW, H=B-T+2*PAD;
  c.width=W; c.height=H; c.style.width=W+'px'; c.style.height=H+'px';
  c.style.left=(L-PAD-AW)+'px'; c.style.top=(T-PAD)+'px';
  document.body.appendChild(c);
  return new Chart(c,{type:'line', data:{datasets}, options:{
    responsive:false, animation:false, devicePixelRatio:1, events:[],
    layout:{padding:PAD},
    plugins:{legend:{display:false}, tooltip:{enabled:false}},
    scales:{
      x:{type:'linear', min:0, max:10, display:false},
      y:{type:'linear', min:yMin, max:yMax,
         afterBuildTicks:s=>{s.ticks=yt.map(v=>({value:v}));},
         afterFit:s=>{s.width=AW;},
         grid:{display:false, drawTicks:false}, border:{display:false},
         ticks:{padding:18, color:AXC, font:{family:'DejaVu Sans', weight:'bold', size:30}, callback:v=>String(v)}}
    }}, plugins:[framePlugin(yt), errPlugin]});
}

Chart.defaults.font.family='DejaVu Sans';

// Panel 1: Ip and powers
panel(186,97,1124,517,0,35,ipTicks,[
  marks(efitEq,RED,7.5,0,RED,0),
  line(ipCurve,BLUE,3.5,1),
  line(pNbi,MAG,3,2),
  line(pIcr,GRN,3.5,3)
]);
// Panel 2: q profiles
panel(186,517,1124,940,0.08,20.24,qTicks,[
  line(q95Raptor,RED,3.5,1), line(q08Raptor,PUR,3.5,2), line(q04Raptor,GRN,3.5,3), line(q01Raptor,ORG,3.5,4),
  marks(q95Efit,BLUE,5,3,'#ffffff',5), marks(q08Efit,BLUE,5,3,'#ffffff',6),
  marks(q04Efit,BLUE,5,3,'#ffffff',7), marks(q01Efit,BLUE,5,3,'#ffffff',8)
]);
// Panel 3: li(3)
panel(186,940,1124,1365,0.6,1.6,liTicks,[
  marks(liChease,'#000000',8,3,'rgba(0,0,0,0)',0),
  line(liRaptor,RED,3.5,1),
  line(liEfit,BLUE,3.5,2)
]);
// Panel 4: He, nel
panel(1422,97,2360,517,0.1,0.9,heTicks,[
  line(nelRef,'#000000',6,0,{borderDash:[30,20]}),
  line(heRef,'#000000',6,1,{borderDash:[30,20]}),
  line(nelRaptor,RED,3,2), line(heRaptor,RED,3,3),
  line(nelExp,BLUE,3,4), line(heExp,BLUE,3,5)
]);
// Panel 5: ne
panel(1422,517,2360,940,0.48,10.03,neTicks,[
  line(neRaptor02,RED,7,0), line(neRaptor08,RED,7,1),
  errMarks(neThomson02,BLUE,4,2.5,2), errMarks(neThomson08,BLUE,4,2.5,3)
]);
// Panel 6: Te
panel(1422,940,2360,1365,0,8,teTicks,[
  line(teRaptor02,RED,7,0), line(teRaptor08,RED,7,1),
  errMarks(teThomson02,BLUE,4,2.5,2), errMarks(teThomson08,BLUE,4,2.5,3)
]);

// ---------------- TEXT / LEGENDS ----------------
function add(h){document.body.insertAdjacentHTML('beforeend',h);}
function box(l,t,w,h){add(`<div class="lg" style="left:${l}px;top:${t}px;width:${w}px;height:${h}px"></div>`);}
function hline(x1,x2,y,w,c){add(`<div class="s" style="left:${x1}px;top:${y-w/2}px;width:${x2-x1}px;height:${w}px;background:${c}"></div>`);}
function dot(cx,cy,r,fill,stroke,bw){add(`<div class="s" style="left:${cx-r}px;top:${cy-r}px;width:${2*r}px;height:${2*r}px;border-radius:50%;box-sizing:border-box;background:${fill};border:${bw}px solid ${stroke}"></div>`);}
function text(h,left,base,size,cls,extra){add(`<div class="t ${cls}" style="left:${left}px;top:${base-0.846*size}px;font-size:${size}px;${extra||''}">${h}</div>`);}
function ltext(h,left,cy,size){text(h,left,cy+0.3645*size,size,'b');}
function axl(h,cx,cy){add(`<div class="ax" style="left:${cx}px;top:${cy}px">${h}</div>`);}
const sb = s => `<span style="font-size:18px;vertical-align:-8px">${s}</span>`;

// title
text('JET #92207',653,77,33,'b','transform:translateX(-50%)');

// axis labels
axl('I<sub>p</sub>, [MA/10]; Powers [MW]',79,310);
axl('q(<span class="rho">ρ</span>)',94,733);
axl('l<sub>i</sub>(3)',64,1153);
axl('H<sub>e</sub>, n<sub>el</sub> [10<sup>20</sup> m<sup>-3</sup>]',1301,310);
axl('n<sub>e</sub>(<span class="rho">ρ</span>) [10<sup>19</sup>m<sup>-3</sup>]',1336,732);
axl('T<sub>e</sub>(<span class="rho">ρ</span>) [keV]',1302,1155);

// annotations
text('ρ=0.95',952,627,33,'');
text('ρ=0.8',903,832,33,'');
text('ρ=0.4',890,893,33,'');
text('ρ=0.1',188,933,33,'');
text('ρ=0.2',2028,700,33,'');
text('ρ=0.8',1885,893,33,'');
text('ρ=0.2',1885,1160,33,'');
text('ρ=0.8',1970,1330,33,'');
text('n<span style="font-size:30px;vertical-align:-4px">el</span>',1625,222,44,'');
text('H<span style="font-size:30px;vertical-align:-3px">e</span>',1697,468,38,'');
text(').',-2,1295,56,'',"font-family:'Liberation Serif',serif");

// legend 1
box(843,97,282,198);
hline(867,995,128,4,BLUE); hline(867,995,177,4,MAG); hline(867,995,227,4,GRN); dot(929.5,271,7.5,RED,RED,0);
ltext('I'+sb('p'),1007,124,27); ltext('P'+sb('NBI'),1007,174,27); ltext('P'+sb('ICR'),1007,224,27); ltext('EFITeq',1007,271,27);
// legend 2
box(186,517,306,90);
dot(271,544,5.5,'#fff',BLUE,3); hline(209,337,582,4,RED);
ltext('EFIT',349,544,26); ltext('RAPTOR',349,582,26);
// legend 3
box(186,940,305,130);
hline(211,336,966,4,BLUE); dot(272,1004,8.5,'#fff','#000',3); hline(211,336,1043,4,RED);
ltext('EFIT',348,966,26); ltext('CHEASE',348,1004,26); ltext('RAPTOR',348,1043,26);
// legend 4
box(2007,97,420,128);
hline(2031,2159,123,4,BLUE); hline(2031,2159,161,4,RED); hline(2032,2065,201,7,'#000'); hline(2097,2128,201,7,'#000');
ltext('experiment',2171,123,27); ltext('RAPTOR',2171,161,27); ltext('reference',2171,201,27);
// legend 5
box(2048,545,400,91);
dot(2132,572,4.5,'#fff',BLUE,2.5); hline(2069,2200,610,8,RED);
ltext('Thomson',2210,572,27); ltext('RAPTOR',2210,610,27);
// legend 6
box(2048,962,400,93);
dot(2132,989,4.5,'#fff',BLUE,2.5); hline(2069,2200,1027,8,RED);
ltext('Thomson',2210,989,27); ltext('RAPTOR',2210,1027,27);
</script></body></html>
